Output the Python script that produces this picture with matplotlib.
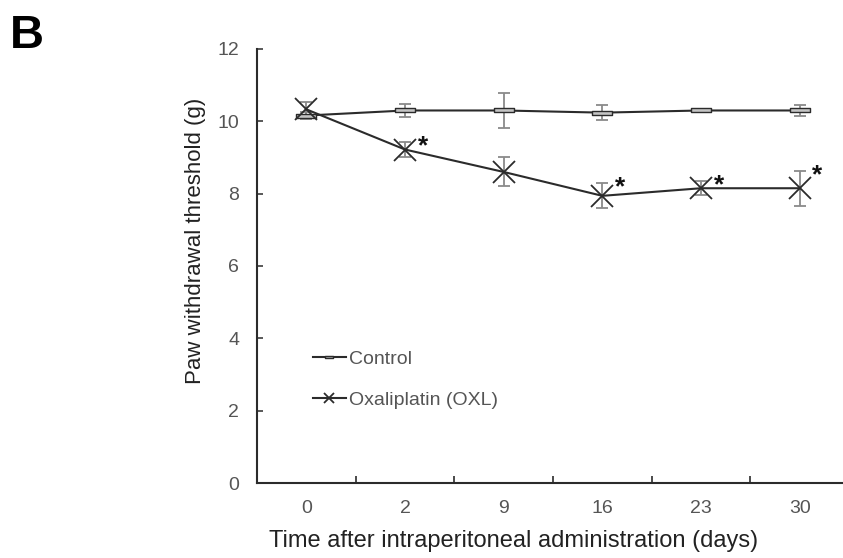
import numpy as np
import matplotlib.pyplot as plt
from matplotlib.path import Path

plt.rcParams["font.family"] = ["Liberation Sans", "DejaVu Sans"]

days = ["0", "2", "9", "16", "23", "30"]
control_mean = [10.16, 10.30, 10.30, 10.24, 10.30, 10.30]
control_err = [0.10, 0.17, 0.48, 0.20, 0.03, 0.15]
oxl_mean = [10.33, 9.22, 8.60, 7.94, 8.15, 8.15]
oxl_err = [0.20, 0.21, 0.40, 0.35, 0.20, 0.48]
significant = [False, True, False, True, True, True]

# flat box marker for control group
rect = Path([(-1.8, -0.32), (1.8, -0.32), (1.8, 0.32), (-1.8, 0.32), (-1.8, -0.32)],
            [Path.MOVETO, Path.LINETO, Path.LINETO, Path.LINETO, Path.CLOSEPOLY])

fig = plt.figure(figsize=(8.43, 5.58), dpi=100)
ax = fig.add_axes([0.305, 0.1344, 0.695, 0.7778])

x = np.arange(len(days))
line_color = "#2b2b2b"
err_color = "#8a8a8a"

ax.errorbar(x, control_mean, yerr=control_err, fmt="none", ecolor=err_color,
            elinewidth=1.3, capsize=4.5, capthick=1.3, zorder=2)
ax.errorbar(x, oxl_mean, yerr=oxl_err, fmt="none", ecolor=err_color,
            elinewidth=1.3, capsize=4.5, capthick=1.3, zorder=2)

ax.plot(x, control_mean, color=line_color, lw=1.5, marker=rect, markersize=14,
        markerfacecolor="#c4c4c4", markeredgecolor=line_color, markeredgewidth=1.0,
        label="Control", zorder=3)
ax.plot(x, oxl_mean, color=line_color, lw=1.5, marker="x", markersize=16,
        markeredgewidth=1.3, label="Oxaliplatin (OXL)", zorder=4)

for xi, m, e, s in zip(x, oxl_mean, oxl_err, significant):
    if s:
        ax.text(xi + 0.18, m + e - 0.12, "*", fontsize=19, fontweight="bold",
                ha="center", va="center", color="#111111")

ax.set_xlim(-0.5, 5.44)
ax.set_ylim(0, 12)
ax.set_yticks(range(0, 13, 2))
ax.set_xticks(x)
ax.set_xticklabels(days)
ax.set_xticks(np.arange(0.5, 5.5, 1), minor=True)

ax.tick_params(axis="x", which="major", length=0, pad=12, labelsize=14, labelcolor="#555555")
ax.tick_params(axis="x", which="minor", direction="in", length=5, width=1.2, color=line_color)
ax.tick_params(axis="y", direction="in", length=4, width=1.1, color=line_color,
               pad=13, labelsize=14, labelcolor="#555555")

for side in ["top", "right"]:
    ax.spines[side].set_visible(False)
for side in ["left", "bottom"]:
    ax.spines[side].set_color(line_color)
    ax.spines[side].set_linewidth(1.5)

ax.set_ylabel("Paw withdrawal threshold (g)", fontsize=16, color="#222222")
ax.yaxis.set_label_coords(-0.088, 0.558)
ax.set_xlabel("Time after intraperitoneal administration (days)", fontsize=17,
              color="#222222")
ax.xaxis.set_label_coords(0.437, -0.108)

ax.legend(loc="lower left", bbox_to_anchor=(0.065, 0.13), frameon=False, fontsize=14,
          handlelength=1.7, handletextpad=0.15, labelspacing=1.2, markerscale=0.45,
          labelcolor="#555555")

fig.text(0.012, 0.975, "B", fontsize=34, fontweight="bold", va="top", ha="left")

plt.savefig("out.png", dpi=100)
plt.close()
